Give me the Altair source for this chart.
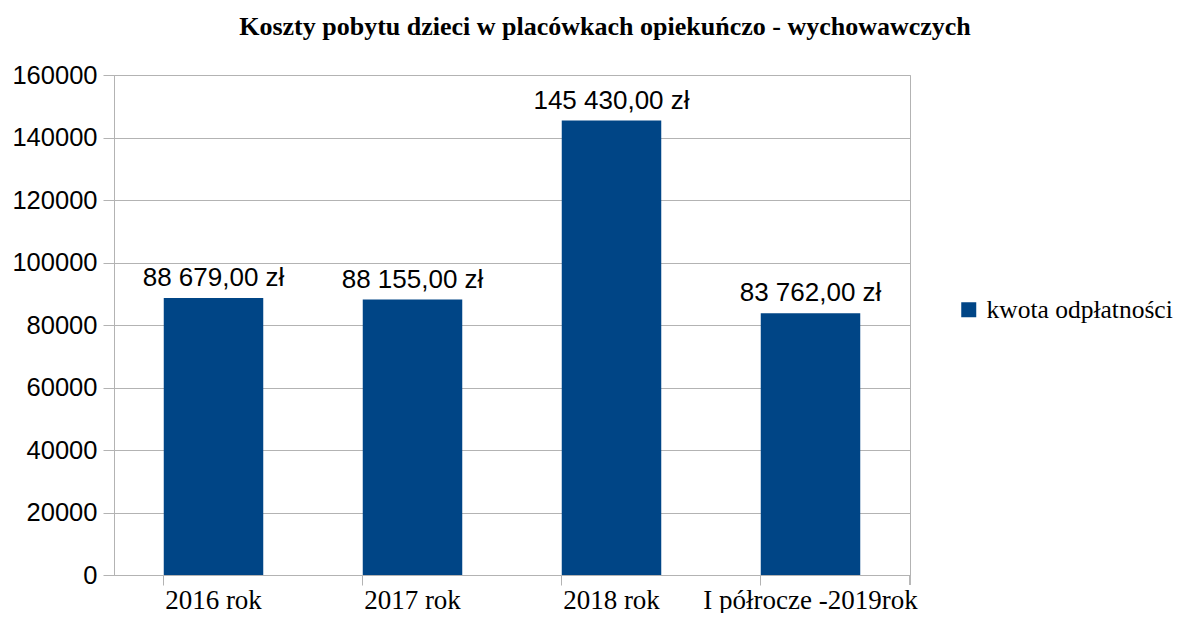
import altair as alt
import pandas as pd

categories = ["2016 rok", "2017 rok", "2018 rok", "I półrocze -2019rok"]
values = [88679.00, 88155.00, 145430.00, 83762.00]
value_labels = ["88 679,00 zł", "88 155,00 zł", "145 430,00 zł", "83 762,00 zł"]
series_name = "kwota odpłatności"
y_ticks = [0, 20000, 40000, 60000, 80000, 100000, 120000, 140000, 160000]

df = pd.DataFrame({"cat": categories, "val": values, "lab": value_labels,
                   "series": [series_name] * len(categories)})

GRID = "#b3b3b3"
SERIF = "Liberation Serif"
SANS = "Liberation Sans"

x_enc = alt.X("cat:N", sort=categories, title=None,
              scale=alt.Scale(paddingInner=0.5, paddingOuter=0.25),
              axis=alt.Axis(labelAngle=0, labelFont=SERIF, labelFontSize=27,
                            labelColor="#000000", labelPadding=23,
                            labelBaseline="alphabetic",
                            tickSize=10, tickColor=GRID, domainColor=GRID,
                            bandPosition=0, labelLimit=400))
y_enc = alt.Y("val:Q", title=None,
              scale=alt.Scale(domain=[0, 160000], nice=False),
              axis=alt.Axis(values=y_ticks, format="d", labelFont=SANS,
                            labelFontSize=25.5, labelColor="#000000",
                            tickSize=11, tickColor=GRID, domainColor=GRID,
                            gridColor=GRID, labelPadding=6))

bars = alt.Chart(df).mark_bar(color="#004586").encode(
    x=x_enc, y=y_enc,
    color=alt.Color("series:N", title=None,
                    scale=alt.Scale(domain=[series_name], range=["#004586"]),
                    legend=alt.Legend(orient="none", legendX=842, legendY=222,
                                      symbolType="square", symbolSize=225,
                                      symbolStrokeWidth=0,
                                      labelFont=SERIF, labelFontSize=25.5,
                                      labelColor="#000000", labelOffset=5,
                                      padding=0, labelLimit=400)),
)

texts = alt.Chart(df).mark_text(font=SANS, fontSize=26, color="#000000",
                                baseline="alphabetic", dy=-12).encode(
    x=alt.X("cat:N", sort=categories),
    y="val:Q",
    text="lab:N",
)

end_tick = alt.Chart(df).mark_rule(color=GRID).encode(
    x=alt.value(796), y=alt.value(500), y2=alt.value(510))

chart = alt.layer(bars, texts, end_tick).properties(
    width=796, height=500,
    title=alt.Title("Koszty pobytu dzieci w placówkach opiekuńczo - wychowawczych",
                    font=SERIF, fontSize=26, fontWeight="bold", color="#000000",
                    anchor="middle", dx=93, offset=23),
    autosize=alt.AutoSizeParams(type="none"),
    padding={"left": 106, "top": 67, "right": 269, "bottom": 38},
).configure_view(stroke=GRID)

chart.save("out.html", embed_options={"renderer": "svg", "actions": False})
